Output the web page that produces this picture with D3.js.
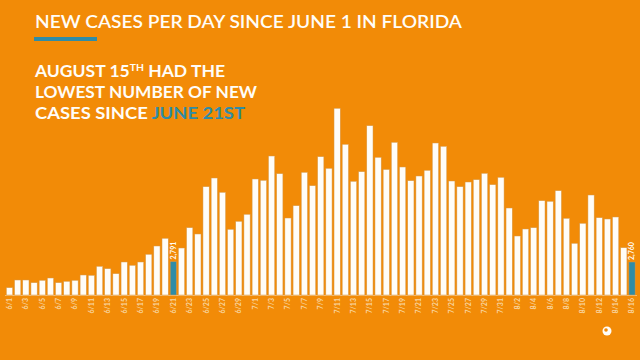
<!DOCTYPE html>
<html><head><meta charset="utf-8">
<script src="https://cdn.jsdelivr.net/npm/d3@7/dist/d3.min.js"></script>
<style>
html,body{margin:0;padding:0;background:#F28B07;}
svg{display:block;}
text{font-family:"Lato","Open Sans",sans-serif;}
</style></head>
<body>
<svg id="c" width="640" height="360"></svg>
<script>
// ---- data ----
const dates = ["6/1","6/2","6/3","6/4","6/5","6/6","6/7","6/8","6/9","6/10","6/11","6/12","6/13","6/14","6/15","6/16","6/17","6/18","6/19","6/20","6/21","6/22","6/23","6/24","6/25","6/26","6/27","6/28","6/29","6/30",
"7/1","7/2","7/3","7/4","7/5","7/6","7/7","7/8","7/9","7/10","7/11","7/12","7/13","7/14","7/15","7/16","7/17","7/18","7/19","7/20","7/21","7/22","7/23","7/24","7/25","7/26","7/27","7/28","7/29","7/30","7/31",
"8/1","8/2","8/3","8/4","8/5","8/6","8/7","8/8","8/9","8/10","8/11","8/12","8/13","8/14","8/15","8/16"];
const cases = [610,1254,1254,1028,1229,1421,1028,1145,1229,1672,1647,2399,2199,1781,2759,2483,2759,3403,4096,4740,2791,3929,5626,5100,9054,9781,8586,5493,6161,6747,
9698,9589,11620,10141,6437,7465,10258,9137,11562,10592,15608,12599,9505,10308,14153,11512,10492,12766,10701,9555,9948,10425,12707,12431,9530,9054,9447,9639,10174,9221,9840,
7273,4932,5518,5626,7883,7833,8719,6412,4322,5994,8360,6462,6354,6521,3954,2760];
const highlighted = ["6/21","8/16"];
const tickLabels = dates.filter((d,i)=>i%2===0);
const titleText = "NEW CASES PER DAY SINCE JUNE 1 IN FLORIDA";

// ---- drawing ----
const svg = d3.select("#c");
const W=640,H=360;
const bg="#F28B07", white="#FFFDF8", teal="#2F8CA6";
svg.append("rect").attr("width",W).attr("height",H).attr("fill",bg);

const x = d3.scaleBand().domain(dates).range([5.4,636.1]).paddingInner(0.24).paddingOuter(0.12);
const y = d3.scaleLinear().domain([0,16000]).range([295,295-16000/83.6]);

// title
svg.append("text").attr("x",35).attr("y",28).attr("fill",white)
  .attr("font-size",17.5).attr("font-weight",600).attr("textLength",427).attr("lengthAdjust","spacingAndGlyphs")
  .text(titleText);
svg.append("rect").attr("x",34).attr("y",37).attr("width",63).attr("height",4).attr("fill",teal);

// subtitle
const sub = svg.append("g").attr("fill",white).attr("font-size",17).attr("font-weight",700);
const l1 = sub.append("text").attr("x",35).attr("y",77).attr("textLength",190).attr("lengthAdjust","spacingAndGlyphs");
l1.append("tspan").text("AUGUST 15");
l1.append("tspan").attr("font-size",10).attr("dy",-6).text("TH");
l1.append("tspan").attr("dy",6).text(" HAD THE");
sub.append("text").attr("x",35).attr("y",98).attr("textLength",222).attr("lengthAdjust","spacingAndGlyphs").text("LOWEST NUMBER OF NEW");
const l3 = sub.append("text").attr("x",35).attr("y",119).attr("textLength",210).attr("lengthAdjust","spacingAndGlyphs");
l3.append("tspan").text("CASES SINCE ");
l3.append("tspan").attr("fill",teal).text("JUNE 21ST");

// baseline
svg.append("line").attr("x1",5).attr("x2",637).attr("y1",295.5).attr("y2",295.5)
  .attr("stroke","#F6C98A").attr("stroke-width",0.8);

// bars
svg.append("g").selectAll("rect").data(dates).join("rect")
  .attr("x",d=>x(d)).attr("width",x.bandwidth())
  .attr("y",(d,i)=>y(cases[i])).attr("height",(d,i)=>y(0)-y(cases[i]))
  .attr("fill",d=>highlighted.includes(d)?teal:white)
  .attr("stroke","#D6994A").attr("stroke-width",0.5);

// value labels on highlighted bars
svg.append("g").selectAll("text").data(highlighted).join("text")
  .attr("transform",d=>{const i=dates.indexOf(d);return `translate(${x(d)+x.bandwidth()/2},${y(cases[i])-2}) rotate(-90)`;})
  .attr("dy","0.35em").attr("font-size",7).attr("font-weight",700).attr("fill",white)
  .text(d=>d3.format(",")(cases[dates.indexOf(d)]));

// x axis
const ax = svg.append("g").attr("transform","translate(0,297)")
  .call(d3.axisBottom(x).tickValues(tickLabels).tickSize(0).tickPadding(0));
ax.select(".domain").remove();
ax.selectAll("text")
  .attr("transform","rotate(-90)").attr("text-anchor","end")
  .attr("x",-1).attr("y",0).attr("dy","0.35em")
  .attr("font-size",7).attr("font-weight",700).attr("fill","#F8D6A2")
  .attr("font-family","Lato, sans-serif");

// small logo mark
svg.append("circle").attr("cx",607).attr("cy",331).attr("r",4.5).attr("fill",white);
svg.append("circle").attr("cx",606).attr("cy",330).attr("r",1.8).attr("fill",bg);
</script>
</body></html>
